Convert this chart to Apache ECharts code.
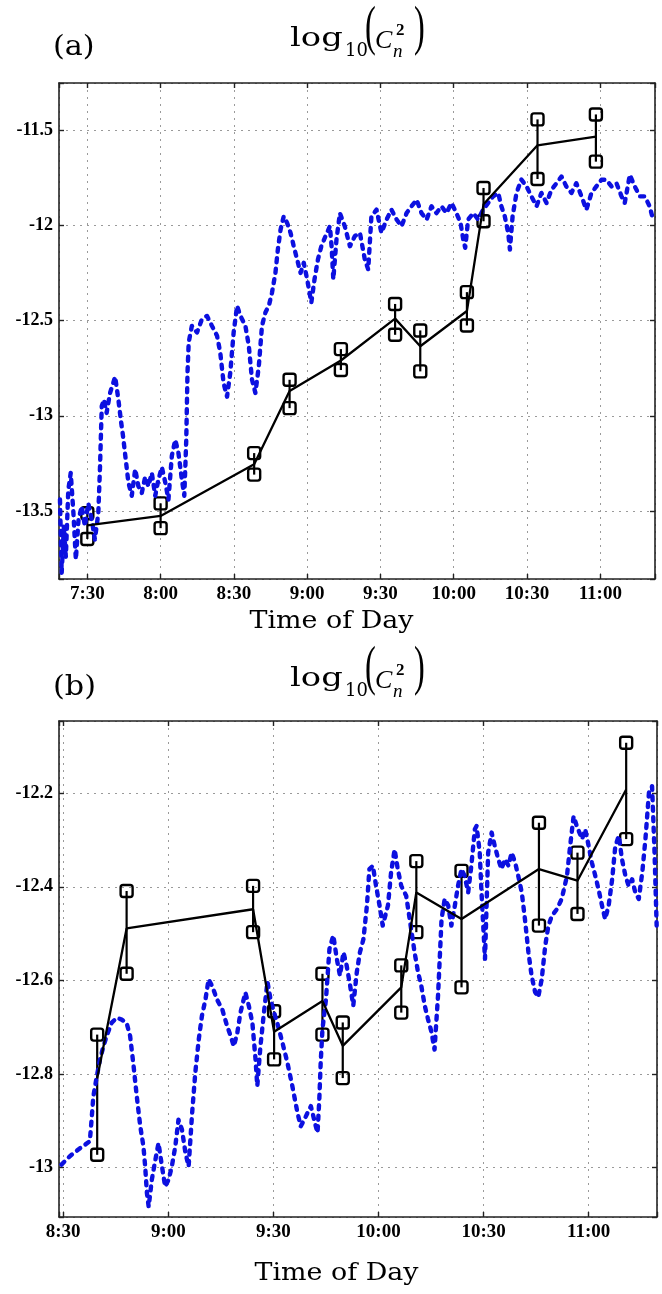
<!DOCTYPE html>
<html><head><meta charset="utf-8">
<script src="https://cdn.jsdelivr.net/npm/echarts@6/dist/echarts.min.js"></script>
<style>html,body{margin:0;padding:0;background:#fff}#c{width:662px;height:1294px}</style>
</head><body><div id="c"></div>
<script>
// ---------- Panel (a) data (x = minutes after midnight) ----------
const topBlue = [[438.8,-13.44],[439.5,-13.825],[440.4,-13.58],[441.2,-13.74],[442.2,-13.39],[443.2,-13.30],[444.3,-13.51],[445.3,-13.755],[446.4,-13.545],[447.7,-13.475],[449,-13.58],[450.4,-13.46],[451.8,-13.545],[453.1,-13.65],[454.5,-13.51],[455.2,-13.265],[455.9,-12.95],[456.8,-12.915],[457.9,-12.985],[459.3,-12.88],[461.4,-12.795],[462.7,-12.915],[463.7,-13.02],[464.8,-13.126],[465.9,-13.25],[466.8,-13.35],[468.2,-13.42],[469.6,-13.28],[470.9,-13.37],[472.3,-13.405],[473.7,-13.32],[475,-13.37],[476.4,-13.3],[477.8,-13.42],[479.1,-13.335],[480.5,-13.27],[481.9,-13.35],[483.2,-13.44],[484.6,-13.21],[486,-13.126],[487.3,-13.196],[488.7,-13.335],[489.7,-13.42],[490.5,-13.126],[491,-12.776],[491.5,-12.615],[492.8,-12.528],[494.9,-12.563],[496.9,-12.493],[499,-12.476],[501,-12.528],[503.1,-12.58],[504.4,-12.667],[505.8,-12.83],[507.2,-12.9],[508.5,-12.776],[509.9,-12.563],[511.3,-12.423],[512.7,-12.476],[514.7,-12.528],[516.1,-12.632],[517.4,-12.81],[518.8,-12.88],[520.2,-12.74],[521.5,-12.528],[522.9,-12.458],[524.3,-12.423],[525.6,-12.354],[527,-12.25],[528,-12.127],[529.1,-12.023],[530.4,-11.953],[531.8,-11.988],[533.2,-12.04],[534.5,-12.11],[535.9,-12.18],[537.3,-12.25],[538.6,-12.197],[540,-12.284],[541.7,-12.406],[543,-12.284],[544.4,-12.18],[545.8,-12.11],[547.5,-12.057],[549.3,-12.005],[550,-12.11],[550.7,-12.284],[552,-12.075],[553.4,-11.936],[555.4,-12.005],[557.5,-12.11],[559.5,-12.057],[561.6,-12.04],[563.6,-12.18],[565,-12.232],[566.3,-11.953],[568.4,-11.918],[570.4,-12.04],[572.5,-11.97],[574.5,-11.918],[576.6,-11.97],[578.6,-12.005],[580.7,-11.936],[582.7,-11.9],[584.8,-11.866],[586.8,-11.936],[588.9,-11.97],[590.9,-11.9],[592.9,-11.936],[595,-11.9],[597,-11.936],[599.1,-11.883],[601.1,-11.936],[602.8,-11.988],[603.9,-12.075],[604.7,-12.118],[605.9,-11.97],[608,-11.936],[610,-11.97],[612,-11.918],[614.1,-11.883],[616.1,-11.848],[618.2,-11.83],[619.5,-11.9],[620.9,-11.953],[622.3,-12.04],[623,-12.127],[624.1,-11.953],[625.7,-11.83],[627.7,-11.76],[629.8,-11.796],[631.8,-11.848],[633.9,-11.9],[635.9,-11.83],[638,-11.883],[640,-11.814],[642.1,-11.779],[644.1,-11.744],[646.1,-11.796],[648.2,-11.83],[650.2,-11.779],[652.3,-11.848],[654.3,-11.918],[656.4,-11.83],[658.4,-11.796],[660.5,-11.761],[662.5,-11.761],[664.6,-11.796],[666.6,-11.779],[668.7,-11.848],[670,-11.883],[672.1,-11.735],[674.1,-11.796],[676.2,-11.848],[678.2,-11.848],[680.2,-11.9],[681.6,-11.97]];
const topTimes = [450, 480, 518.3, 532.8, 553.8, 576, 586.3, 605.4, 612.2, 634.3, 658.2];
const topMean  = [-13.575, -13.526, -13.255, -12.87, -12.71, -12.49, -12.635, -12.45, -11.89, -11.58, -11.535];
const topUpper = [-13.512, -13.46, -13.196, -12.811, -12.65, -12.413, -12.552, -12.351, -11.804, -11.444, -11.418];
const topLower = [-13.647, -13.59, -13.309, -12.96, -12.76, -12.575, -12.767, -12.526, -11.979, -11.757, -11.666];
const topXTicks = [450, 480, 510, 540, 570, 600, 630, 660];
const topXLabels = ['7:30', '8:00', '8:30', '9:00', '9:30', '10:00', '10:30', '11:00'];
const topYTicks = [-13.5, -13, -12.5, -12, -11.5];
const topYLabels = ['-13.5', '-13', '-12.5', '-12', '-11.5'];

// ---------- Panel (b) data ----------
const botBlue = [[509.5,-12.994],[511.9,-12.976],[514.8,-12.959],[517.6,-12.944],[518.1,-12.898],[518.6,-12.848],[519.6,-12.805],[520.5,-12.769],[521.5,-12.741],[522.4,-12.719],[523.8,-12.691],[525.3,-12.68],[526.7,-12.684],[528.1,-12.691],[529.1,-12.719],[530.1,-12.784],[531,-12.848],[532,-12.912],[532.9,-12.955],[533.4,-12.998],[533.9,-13.055],[534.4,-13.084],[535.3,-13.026],[536.3,-12.984],[537.2,-12.948],[538.2,-12.998],[539.1,-13.041],[540.1,-13.026],[541,-12.998],[542,-12.955],[542.9,-12.898],[543.9,-12.919],[544.9,-12.969],[545.8,-12.998],[546.8,-12.884],[547.7,-12.798],[548.7,-12.726],[549.6,-12.676],[550.6,-12.641],[551.5,-12.598],[552.5,-12.612],[553.9,-12.641],[555.4,-12.662],[556.8,-12.698],[557.8,-12.719],[558.7,-12.741],[559.7,-12.712],[560.6,-12.669],[562,-12.626],[563,-12.655],[564,-12.691],[564.9,-12.769],[565.4,-12.826],[566.3,-12.741],[567.3,-12.669],[568.3,-12.603],[569.2,-12.641],[570.2,-12.669],[571.1,-12.691],[572.6,-12.734],[574,-12.776],[575.4,-12.826],[576.9,-12.884],[577.8,-12.912],[578.8,-12.898],[579.7,-12.884],[580.7,-12.869],[582.1,-12.912],[582.6,-12.926],[583.1,-12.855],[583.5,-12.776],[584,-12.705],[585,-12.641],[586,-12.533],[587.1,-12.504],[588.1,-12.554],[589,-12.59],[590,-12.54],[590.9,-12.568],[591.9,-12.611],[592.8,-12.654],[593.8,-12.583],[594.7,-12.54],[595.7,-12.512],[596.7,-12.44],[597.4,-12.362],[598.4,-12.355],[599.3,-12.398],[600.3,-12.44],[601.2,-12.483],[602.7,-12.44],[603.6,-12.369],[604.6,-12.32],[605.5,-12.362],[606.5,-12.398],[607.9,-12.419],[608.9,-12.469],[610.3,-12.54],[611.3,-12.583],[612.2,-12.611],[613.2,-12.654],[614.1,-12.682],[615.1,-12.71],[616,-12.748],[617,-12.632],[618,-12.469],[618.9,-12.426],[619.9,-12.44],[620.8,-12.483],[621.8,-12.44],[622.7,-12.398],[623.7,-12.362],[624.6,-12.377],[625.6,-12.412],[626.5,-12.355],[627.5,-12.277],[628,-12.27],[628.9,-12.327],[629.4,-12.412],[629.9,-12.483],[630.4,-12.554],[631.3,-12.327],[632.3,-12.284],[633.2,-12.313],[634.2,-12.341],[635.1,-12.362],[636.1,-12.341],[637.1,-12.355],[638,-12.327],[639,-12.348],[639.9,-12.377],[640.9,-12.412],[641.8,-12.469],[642.8,-12.54],[643.7,-12.59],[644.7,-12.625],[645.6,-12.636],[646.6,-12.597],[647.6,-12.526],[648.5,-12.483],[649.5,-12.462],[650.9,-12.448],[652.3,-12.426],[653.8,-12.377],[654.7,-12.313],[655.7,-12.249],[656.6,-12.27],[658.1,-12.298],[659,-12.277],[660,-12.313],[660.9,-12.348],[661.9,-12.377],[662.8,-12.405],[663.8,-12.44],[664.7,-12.469],[665.7,-12.44],[666.7,-12.384],[667.6,-12.313],[668.6,-12.291],[669.5,-12.341],[670.5,-12.377],[671.4,-12.398],[672.4,-12.384],[673.3,-12.412],[674.3,-12.426],[675.3,-12.369],[676.2,-12.298],[677.2,-12.199],[678.1,-12.185],[678.8,-12.327],[679.4,-12.483]];
const botTimes = [519.7, 528.1, 564.2, 570.2, 584, 589.8, 606.5, 610.8, 623.7, 645.8, 656.8, 670.7];
const botMean  = [-12.81, -12.489, -12.448, -12.71, -12.644, -12.74, -12.615, -12.412, -12.469, -12.362, -12.387, -12.192];
const botUpper = [-12.716, -12.409, -12.398, -12.666, -12.586, -12.69, -12.568, -12.345, -12.366, -12.263, -12.327, -12.092];
const botLower = [-12.973, -12.586, -12.497, -12.769, -12.716, -12.809, -12.669, -12.497, -12.615, -12.483, -12.458, -12.298];
const botXTicks = [510, 540, 570, 600, 630, 660];
const botXLabels = ['8:30', '9:00', '9:30', '10:00', '10:30', '11:00'];
const botYTicks = [-13, -12.8, -12.6, -12.4, -12.2];
const botYLabels = ['-13', '-12.8', '-12.6', '-12.4', '-12.2'];

// ---------- helpers ----------
const chart = echarts.init(document.getElementById('c'), null, {renderer: 'canvas'});
function lookup(ticks, labels) {
  return function (v) {
    const i = ticks.findIndex(t => Math.abs(t - v) < 1e-6);
    return i >= 0 ? labels[i] : '';
  };
}
const frameColor = '#222';
const gridLine = {show: true, lineStyle: {color: '#9a9a9a', width: 1, type: [2, 5]}};
const labelFont = {fontFamily: 'Liberation Serif', fontWeight: 'bold', fontSize: 19, color: '#000'};
function xAxes(gi, min, max, step, ticks, labels) {
  const base = {gridIndex: gi, type: 'value', min: min, max: max, minInterval: step, maxInterval: step, splitNumber: 8,
    axisLine: {show: true, onZero: false, lineStyle: {color: frameColor, width: 1.6}},
    axisTick: {show: true, inside: true, length: 5, lineStyle: {color: frameColor, width: 1.4}}};
  return [
    Object.assign({}, base, {position: 'bottom', splitLine: gridLine,
      axisLabel: Object.assign({formatter: lookup(ticks, labels), margin: 6}, labelFont)}),
    Object.assign({}, base, {position: 'top', splitLine: {show: false}, axisLabel: {show: false}})
  ];
}
function yAxes(gi, min, max, step, ticks, labels) {
  const base = {gridIndex: gi, type: 'value', min: min, max: max, minInterval: step, maxInterval: step, splitNumber: 6,
    axisLine: {show: true, onZero: false, lineStyle: {color: frameColor, width: 1.6}},
    axisTick: {show: true, inside: true, length: 5, lineStyle: {color: frameColor, width: 1.4}}};
  return [
    Object.assign({}, base, {position: 'left', splitLine: gridLine,
      axisLabel: Object.assign({formatter: lookup(ticks, labels), margin: 6}, labelFont, {fontSize: 18})}),
    Object.assign({}, base, {position: 'right', splitLine: {show: false}, axisLabel: {show: false}})
  ];
}
function errRender(params, api) {
  const t = api.value(0);
  const p1 = api.coord([t, api.value(1)]);
  const p2 = api.coord([t, api.value(2)]);
  const s = 12;
  const sq = p => ({type: 'rect', shape: {x: p[0] - s / 2, y: p[1] - s / 2, width: s, height: s, r: 2.5},
    style: {fill: 'rgba(0,0,0,0)', stroke: '#000', lineWidth: 2.4}});
  return {type: 'group', children: [
    {type: 'line', shape: {x1: p1[0], y1: p1[1], x2: p2[0], y2: p2[1]}, style: {stroke: '#000', lineWidth: 2.2}},
    sq(p1), sq(p2)
  ]};
}
function panelSeries(xi, yi, blue, times, mean, upper, lower) {
  return [
    {type: 'line', xAxisIndex: xi, yAxisIndex: yi, data: blue, symbol: 'none', clip: true,
      lineStyle: {color: '#0c10e0', width: 4.4, type: [4, 6.5], cap: 'round', join: 'round'}},
    {type: 'line', xAxisIndex: xi, yAxisIndex: yi, data: times.map((t, i) => [t, mean[i]]), symbol: 'none',
      lineStyle: {color: '#000', width: 2.3}},
    {type: 'custom', xAxisIndex: xi, yAxisIndex: yi, renderItem: errRender,
      encode: {x: 0, y: [1, 2]}, data: times.map((t, i) => [t, upper[i], lower[i]])}
  ];
}
function titleGroup(dy) {
  const serif = '"DejaVu Serif"';
  return [
    {type: 'text', x: 53, y: 48 + dy, scaleX: 1.12, style: {text: dy ? '(b)' : '(a)', font: '27px ' + serif, fill: '#000', verticalAlign: 'middle'}},
    {type: 'text', x: 290, y: 39 + dy, scaleX: 1.3, style: {text: 'log', font: '26px ' + serif, fill: '#000', verticalAlign: 'middle'}},
    {type: 'text', x: 345, y: 51 + dy, style: {text: '10', font: '18px ' + serif, fill: '#000', verticalAlign: 'middle'}},
    {type: 'text', x: 365, y: 30 + dy, scaleX: 0.6, style: {text: '(', font: '54px "Liberation Serif"', fill: '#000', verticalAlign: 'middle'}},
    {type: 'text', x: 375, y: 41 + dy, style: {text: 'C', font: 'italic 26px "Liberation Serif"', fill: '#000', verticalAlign: 'middle'}},
    {type: 'text', x: 396, y: 31 + dy, style: {text: '2', font: 'bold 17px "Liberation Serif"', fill: '#000', verticalAlign: 'middle'}},
    {type: 'text', x: 393, y: 52 + dy, style: {text: 'n', font: 'italic 19px "Liberation Serif"', fill: '#000', verticalAlign: 'middle'}},
    {type: 'text', x: 414, y: 30 + dy, scaleX: 0.6, style: {text: ')', font: '54px "Liberation Serif"', fill: '#000', verticalAlign: 'middle'}}
  ];
}
const xa = xAxes(0, 438.4, 682.4, 30, topXTicks, topXLabels).concat(xAxes(1, 508.8, 679.5, 30, botXTicks, botXLabels));
const ya = yAxes(0, -13.857, -11.253, 0.5, topYTicks, topYLabels).concat(yAxes(1, -13.106, -12.0455, 0.2, botYTicks, botYLabels));

chart.setOption({
  animation: false,
  backgroundColor: '#fff',
  grid: [
    {left: 59, top: 83, width: 596, height: 496},
    {left: 59, top: 721, width: 598, height: 496}
  ],
  xAxis: xa,
  yAxis: ya,
  series: panelSeries(0, 0, topBlue, topTimes, topMean, topUpper, topLower)
    .concat(panelSeries(2, 2, botBlue, botTimes, botMean, botUpper, botLower)),
  graphic: titleGroup(0).concat(titleGroup(640)).concat([
    {type: 'text', x: 331.5, y: 622, scaleX: 1.12, style: {text: 'Time of Day', font: '24px "DejaVu Serif"', fill: '#000', align: 'center', verticalAlign: 'middle'}},
    {type: 'text', x: 336.5, y: 1274, scaleX: 1.12, style: {text: 'Time of Day', font: '24px "DejaVu Serif"', fill: '#000', align: 'center', verticalAlign: 'middle'}}
  ])
});
</script>
</body></html>
